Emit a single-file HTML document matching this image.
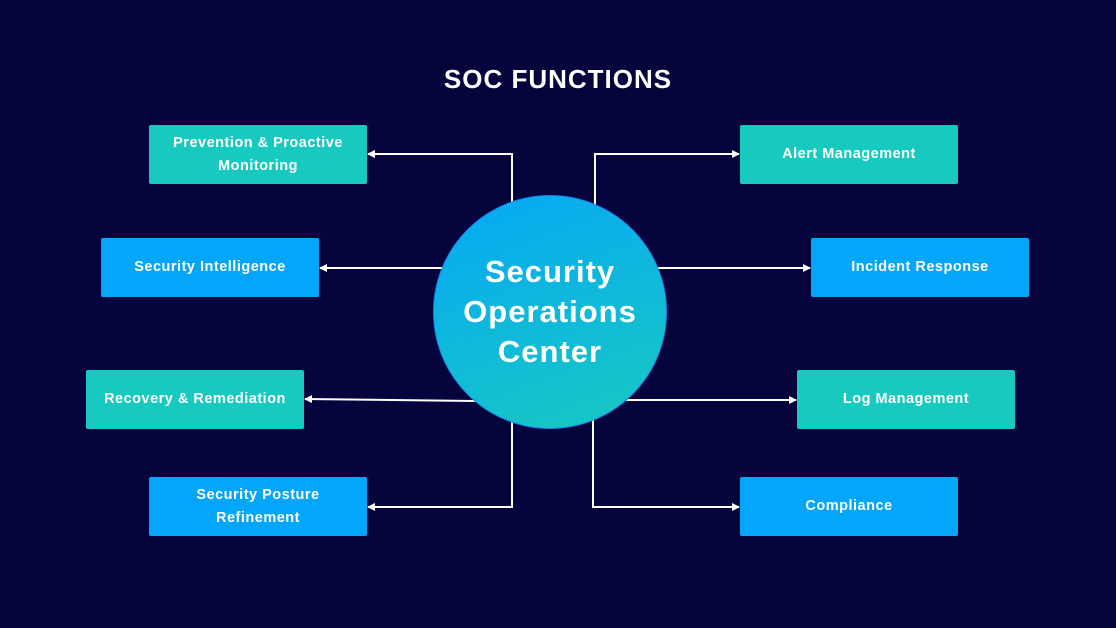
<!DOCTYPE html>
<html><head><style>
body{margin:0;width:1116px;height:628px;background:#06043d;overflow:hidden;font-family:"Liberation Sans",sans-serif;position:relative}
.b{position:absolute;width:218px;height:59px;display:flex;align-items:center;justify-content:center;text-align:center;color:#fff;font-weight:bold;font-size:14.5px;line-height:23px;letter-spacing:0.5px;border-radius:2px}
.t{background:#18c9c0}.u{background:#03a6f8}
h1{position:absolute;top:64px;left:0;width:1116px;text-align:center;margin:0;color:#fff;font-size:26px;font-weight:bold;letter-spacing:1px}
.c{position:absolute;left:433px;top:195px;width:232px;height:232px;border:1px solid #1a7fe8;border-radius:50%;background:linear-gradient(160deg,#06a8f6,#18c9c0);display:flex;align-items:center;justify-content:center;text-align:center;color:#fff;font-weight:bold;font-size:31px;line-height:40px;letter-spacing:1px}
</style></head><body>
<h1>SOC FUNCTIONS</h1>
<svg width="1116" height="628" style="position:absolute;left:0;top:0">
<defs><marker id="a" markerWidth="8" markerHeight="8" refX="7" refY="4" orient="auto" markerUnits="userSpaceOnUse"><path d="M0,0 L8,4 L0,8 Z" fill="#fff"/></marker></defs>
<g stroke="#fff" stroke-width="2" fill="none">
<path d="M512 210 V154 H368" marker-end="url(#a)"/>
<path d="M595 210 V154 H739" marker-end="url(#a)"/>
<path d="M450 268 H320" marker-end="url(#a)"/>
<path d="M650 268 H810" marker-end="url(#a)"/>
<path d="M475 401 L305 399" marker-end="url(#a)"/>
<path d="M625 400 H796" marker-end="url(#a)"/>
<path d="M512 415 V507 H368" marker-end="url(#a)"/>
<path d="M593 415 V507 H739" marker-end="url(#a)"/>
</g></svg>
<div class="c">Security<br>Operations<br>Center</div>
<div class="b t" style="left:149px;top:125px">Prevention &amp; Proactive<br>Monitoring</div>
<div class="b t" style="left:740px;top:125px">Alert Management</div>
<div class="b u" style="left:101px;top:238px">Security Intelligence</div>
<div class="b u" style="left:811px;top:238px">Incident Response</div>
<div class="b t" style="left:86px;top:370px">Recovery &amp; Remediation</div>
<div class="b t" style="left:797px;top:370px">Log Management</div>
<div class="b u" style="left:149px;top:477px">Security Posture<br>Refinement</div>
<div class="b u" style="left:740px;top:477px">Compliance</div>
</body></html>
